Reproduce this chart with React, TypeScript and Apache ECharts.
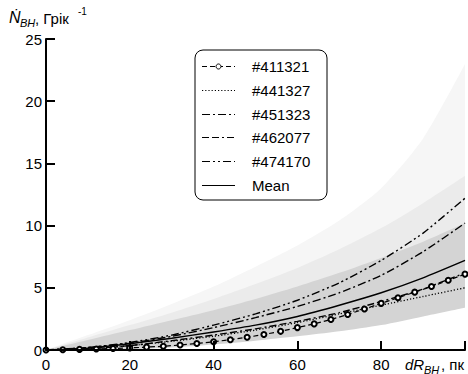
import React, { useEffect, useRef } from "react";
import * as echarts from "echarts";

const FONT = "'Liberation Sans', Arial, sans-serif";

// x grids
const xs10 = [0, 10, 20, 30, 40, 50, 60, 70, 80, 90, 100];
const xs4 = [0, 4, 8, 12, 16, 20, 24, 28, 32, 36, 40, 44, 48, 52, 56, 60, 64, 68, 72, 76, 80, 84, 88, 92, 96, 100];

// series values
const s411321 = [0, 0.02, 0.05, 0.08, 0.12, 0.17, 0.23, 0.3, 0.4, 0.52, 0.66, 0.83, 1.02, 1.25, 1.5, 1.8, 2.1, 2.45, 2.85, 3.3, 3.75, 4.2, 4.65, 5.1, 5.6, 6.1];
const s441327 = [0, 0.1, 0.35, 0.7, 1.1, 1.6, 2.2, 2.9, 3.6, 4.3, 5.0];
const s451323 = [0, 0.2, 0.55, 1.1, 1.8, 2.6, 3.5, 4.6, 6.0, 7.9, 10.2];
const s462077 = [0, 0.1, 0.35, 0.75, 1.2, 1.7, 2.3, 3.0, 3.9, 4.9, 6.2];
const s474170 = [0, 0.2, 0.6, 1.2, 2.0, 2.9, 4.0, 5.4, 7.2, 9.4, 12.2];
const sMean = [0, 0.15, 0.5, 0.95, 1.45, 2.0, 2.7, 3.6, 4.6, 5.8, 7.2];

// grey fan of simulations (edges)
const fanLower = [0, 0, 0.05, 0.2, 0.45, 0.75, 1.1, 1.5, 2.0, 2.7, 3.4];
const fanCore = [0, 0.8, 1.6, 2.4, 3.2, 4.1, 5.1, 6.2, 7.4, 8.7, 10.2];
const fanMid = [0, 1.0, 2.0, 3.0, 4.1, 5.3, 6.6, 8.1, 9.8, 11.8, 14.0];
const fanFaint = [0, 1.2, 2.4, 3.7, 5.1, 6.7, 8.4, 10.4, 13.0, 17.0, 23.0];

// tick labels
const yTicks = [0, 5, 10, 15, 20, 25];
const xTicks = [0, 20, 40, 60, 80];

const legendNames = ["#411321", "#441327", "#451323", "#462077", "#474170", "Mean"];
const legendDash: (number[] | null)[] = [[5, 3], [1.2, 2], [8, 3, 2, 3], [7, 3, 7, 3, 2, 3], [8, 3, 2, 3, 2, 3], null];

function pairs(xs: number[], ys: number[]) {
  return xs.map((x, i) => [x, ys[i]]);
}

export default function App() {
  const ref = useRef<HTMLDivElement>(null);
  useEffect(() => {
    if (!ref.current) return;
    const chart = echarts.init(ref.current, null, { renderer: "svg" });
    const area = (name: string, ys: number[], color: string) => ({
      name,
      type: "line",
      data: pairs(xs10, ys),
      symbol: "none",
      silent: true,
      z: 1,
      smooth: 0.25,
      lineStyle: { width: 0, opacity: 0 },
      areaStyle: { color, opacity: 1 },
    });
    const line = (name: string, data: number[][], type: any, width = 1.3, extra: any = {}) => ({
      name,
      type: "line",
      data,
      symbol: "none",
      showSymbol: false,
      smooth: 0.2,
      z: 3,
      lineStyle: { color: "#000", width, type },
      itemStyle: { color: "#000" },
      ...extra,
    });

    // manual legend
    const lx = 195, ly = 50, lw = 132, lh = 150;
    const rowY = (i: number) => ly + 16 + i * 23.8;
    const legendGraphics: any[] = [
      { type: "rect", shape: { x: lx, y: ly, width: lw, height: lh, r: 8 }, style: { fill: "#fff", stroke: "#000", lineWidth: 1 }, z: 10 },
    ];
    legendNames.forEach((n, i) => {
      const y = Math.round(rowY(i)) + 0.5;
      legendGraphics.push({
        type: "line",
        shape: { x1: 202, y1: y, x2: 235, y2: y },
        style: { stroke: "#000", lineWidth: 1.2, lineDash: legendDash[i] || undefined },
        z: 11,
      });
      if (i === 0) {
        legendGraphics.push({ type: "circle", shape: { cx: 218.5, cy: y, r: 2.5 }, style: { fill: "#fff", stroke: "#000", lineWidth: 1 }, z: 12 });
      }
      legendGraphics.push({
        type: "text",
        x: 252,
        y: y,
        style: { text: n, font: `15px ${FONT}`, fill: "#000", verticalAlign: "middle" },
        z: 11,
      });
    });

    chart.setOption({
      animation: false,
      backgroundColor: "#fff",
      textStyle: { fontFamily: FONT },
      grid: { left: 46, right: 2, top: 39, bottom: 24, containLabel: false },
      xAxis: {
        type: "value",
        min: 0,
        max: 100,
        interval: 20,
        z: 5,
        axisLine: { show: true, lineStyle: { color: "#000", width: 2 } },
        axisTick: { show: true, inside: true, length: 9, lineStyle: { color: "#000", width: 2 } },
        splitLine: { show: false },
        axisLabel: {
          color: "#000",
          fontSize: 15,
          fontFamily: FONT,
          margin: 7,
          formatter: (v: number) => (xTicks.indexOf(v) >= 0 ? String(v) : ""),
        },
      },
      yAxis: {
        type: "value",
        min: 0,
        max: 25,
        interval: 5,
        z: 5,
        axisLine: { show: true, lineStyle: { color: "#000", width: 2 } },
        axisTick: { show: true, inside: true, length: 9, lineStyle: { color: "#000", width: 2 } },
        splitLine: { show: false },
        axisLabel: {
          color: "#000",
          fontSize: 15,
          fontFamily: FONT,
          margin: 4,
          formatter: (v: number) => (yTicks.indexOf(v) >= 0 ? String(v) : ""),
        },
      },
      series: [
        area("fanFaint", fanFaint, "#f6f6f6"),
        area("fanMid", fanMid, "#ebebeb"),
        area("fanCore", fanCore, "#d4d4d4"),
        area("fanLower", fanLower, "#ffffff"),
        line("#411321", pairs(xs4, s411321), [5, 3], 1.2, {
          symbol: "emptyCircle",
          symbolSize: 5,
          showSymbol: true,
          smooth: false,
          itemStyle: { color: "#000", borderWidth: 0.8 },
        }),
        line("#441327", pairs(xs10, s441327), [1.2, 2], 1.3),
        line("#451323", pairs(xs10, s451323), [8, 3, 2, 3], 1.4),
        line("#462077", pairs(xs10, s462077), [7, 3, 7, 3, 2, 3], 1.4),
        line("#474170", pairs(xs10, s474170), [8, 3, 2, 3, 2, 3], 1.4),
        line("Mean", pairs(xs10, sMean), "solid", 1.5),
      ],
      graphic: [
        { type: "text", left: 9, top: 9, style: { text: "Ṅ", font: `italic 16px ${FONT}`, fill: "#000" } },
        { type: "text", left: 20, top: 17, style: { text: "BH", font: `italic 11px ${FONT}`, fill: "#000" } },
        { type: "text", left: 35, top: 11, style: { text: ", Грік", font: `15px ${FONT}`, fill: "#000" } },
        { type: "text", left: 78, top: 6, style: { text: "-1", font: `10px ${FONT}`, fill: "#000" } },
        { type: "text", left: 405, top: 357, style: { text: "dR", font: `italic 15px ${FONT}`, fill: "#000" } },
        { type: "text", left: 424, top: 364, style: { text: "BH", font: `italic 11px ${FONT}`, fill: "#000" } },
        { type: "text", left: 441, top: 357, style: { text: ", пк", font: `15px ${FONT}`, fill: "#000" } },
        ...legendGraphics,
      ],
    });
    return () => chart.dispose();
  }, []);
  return <div ref={ref} style={{ width: 468, height: 374, position: "absolute", left: 0, top: 0 }} />;
}
